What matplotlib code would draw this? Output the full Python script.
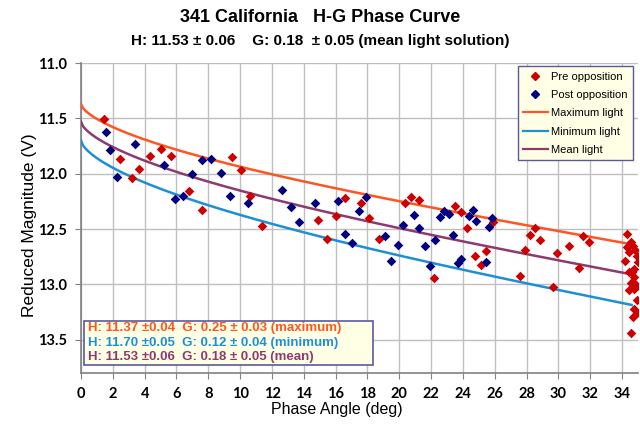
import numpy as np
import matplotlib
matplotlib.use("Agg")
import matplotlib.pyplot as plt
from matplotlib.lines import Line2D
from matplotlib.patches import Rectangle

# --- data ---
pre_alpha = [1.45, 2.45, 3.19, 3.67, 4.36, 5.03, 5.66, 6.81, 7.59, 9.48, 10.08, 10.63, 11.36,
             14.89, 15.45, 16.04, 16.6, 17.61, 18.07, 18.7, 20.33, 20.75, 21.21, 22.2, 23.52,
             23.88, 24.26, 24.74, 25.14, 25.47, 25.89, 27.61, 27.92, 28.24, 28.53, 28.82,
             29.66, 29.92, 30.67, 31.32, 31.55, 31.91,
             34.32, 34.53, 34.32, 34.69, 34.84, 34.42, 34.94, 34.21, 34.99, 34.78, 34.63,
             34.69, 34.53, 34.91, 34.42, 34.78, 34.91, 34.78, 34.69, 34.91, 34.57, 34.42, 34.74]
pre_mag = [11.51, 11.87, 12.04, 11.96, 11.84, 11.78, 11.84, 12.16, 12.33, 11.85, 11.97, 12.20, 12.47,
           12.42, 12.59, 12.38, 12.22, 12.26, 12.40, 12.59, 12.26, 12.21, 12.24, 12.94, 12.29,
           12.35, 12.49, 12.74, 12.82, 12.70, 12.44, 12.92, 12.69, 12.55, 12.49, 12.60,
           13.02, 12.72, 12.65, 12.85, 12.56, 12.62,
           12.54, 12.62, 12.66, 12.65, 12.69, 12.71, 12.74, 12.79, 12.80, 12.86, 12.89,
           12.98, 12.99, 13.01, 13.05, 13.04, 13.14, 13.22, 13.29, 13.26, 13.44, 12.89, 12.93]

post_alpha = [1.55, 1.82, 2.28, 3.38, 5.2, 5.89, 6.39, 6.98, 7.59, 8.18, 8.78, 9.35, 10.5,
              12.64, 13.19, 13.69, 14.72, 16.12, 16.6, 17.06, 17.44, 17.92, 19.12, 19.5, 19.9,
              20.23, 20.9, 21.26, 21.64, 21.91, 22.26, 22.56, 22.83, 23.1, 23.4, 23.67, 23.88,
              24.36, 24.61, 24.84, 25.45, 25.62, 25.83]
post_mag = [11.62, 11.79, 12.03, 11.73, 11.92, 12.23, 12.20, 12.00, 11.88, 11.87, 11.99, 12.20, 12.26,
            12.15, 12.30, 12.44, 12.26, 12.25, 12.54, 12.63, 12.34, 12.21, 12.56, 12.79, 12.64,
            12.46, 12.37, 12.49, 12.65, 12.83, 12.60, 12.39, 12.34, 12.36, 12.55, 12.81, 12.77,
            12.38, 12.33, 12.43, 12.80, 12.48, 12.40]

fit_names = ["Maximum light", "Minimum light", "Mean light"]
fit_H = [11.37, 11.70, 11.53]
fit_G = [0.25, 0.12, 0.18]
fit_colors = ["#FF5522", "#1E8FD5", "#8E3A6E"]
box_lines = ["H: 11.37 \u00b10.04  G: 0.25 \u00b1 0.03 (maximum)",
             "H: 11.70 \u00b10.05  G: 0.12 \u00b1 0.04 (minimum)",
             "H: 11.53 \u00b10.06  G: 0.18 \u00b1 0.05 (mean)"]

x_ticks = list(range(0, 35, 2))
y_ticks = [11.0, 11.5, 12.0, 12.5, 13.0, 13.5]


def hg_mag(H, G, alpha_deg):
    t = np.tan(np.radians(alpha_deg) / 2.0)
    phi1 = np.exp(-3.33 * t ** 0.63)
    phi2 = np.exp(-1.87 * t ** 1.22)
    return H - 2.5 * np.log10((1 - G) * phi1 + G * phi2)


fig = plt.figure(figsize=(6.4, 4.36), dpi=100)
ax = fig.add_axes([81 / 640, 1 - 373 / 436, (638 - 81) / 640, (373 - 63) / 436])

alpha = np.linspace(0, 34.6, 300)
for name, H, G, c in zip(fit_names, fit_H, fit_G, fit_colors):
    ax.plot(alpha, hg_mag(H, G, alpha), color=c, lw=1.8, zorder=3)

ax.scatter(pre_alpha, pre_mag, marker="D", s=24, color="#CC0000", zorder=4, linewidths=0)
ax.scatter(post_alpha, post_mag, marker="D", s=24, color="#000080", zorder=4, linewidths=0)

ax.set_xlim(0, 35)
ax.set_ylim(13.8, 11.0)
ax.set_xticks(x_ticks)
ax.set_yticks(y_ticks)
ax.set_yticklabels([f"{v:.1f}" for v in y_ticks])
ax.grid(True, color="#BFBFBF", lw=1.0)
ax.set_axisbelow(True)
for s in ["top", "right"]:
    ax.spines[s].set_visible(False)
for s in ["left", "bottom"]:
    ax.spines[s].set_color("#808080")
    ax.spines[s].set_linewidth(1.2)
ax.tick_params(axis="both", length=4, color="#808080", labelsize=10.5, pad=6)
for lab in ax.get_xticklabels() + ax.get_yticklabels():
    lab.set_fontfamily("Lato")
    lab.set_fontweight("bold")

fig.text(30 / 640, 1 - 225 / 436, "Reduced Magnitude (V)", rotation=90, ha="center", va="center",
         fontsize=12.5, family="Liberation Sans")
fig.text(337 / 640, 1 - 409 / 436, "Phase Angle (deg)", ha="center", va="center",
         fontsize=11.5, family="Liberation Sans")
fig.text(0.5, 1 - 17 / 436, "341 California   H-G Phase Curve", ha="center", va="center",
         fontsize=13, fontweight="bold", family="Liberation Sans")
fig.text(0.5, 1 - 41 / 436, "H: 11.53 \u00b1 0.06    G: 0.18  \u00b1 0.05 (mean light solution)",
         ha="center", va="center", fontsize=11, fontweight="bold", family="Liberation Sans")

handles = [Line2D([], [], marker="D", ls="none", color="#CC0000", markersize=4.5),
           Line2D([], [], marker="D", ls="none", color="#000080", markersize=4.5)]
handles += [Line2D([], [], color=c, lw=1.6) for c in fit_colors]
leg = ax.legend(handles, ["Pre opposition", "Post opposition"] + fit_names,
                loc="upper right", bbox_to_anchor=(633 / 640, 1 - 66 / 436),
                bbox_transform=fig.transFigure, prop={"family": "Liberation Sans", "size": 8},
                frameon=True, fancybox=False, handlelength=2.2, handletextpad=0.3,
                borderpad=0.5, labelspacing=0.75, borderaxespad=0)
leg.get_frame().set_facecolor("#FFFFE6")
leg.get_frame().set_edgecolor("#5A5A9A")
leg.get_frame().set_alpha(1)

# text box
bx0, bx1, by0, by1 = 84, 373, 321, 365
rect = Rectangle((bx0 / 640, 1 - by1 / 436), (bx1 - bx0) / 640, (by1 - by0) / 436,
                 transform=fig.transFigure, facecolor="#FFFFE6", edgecolor="#5A5A9A", lw=1.2, zorder=5)
fig.patches.append(rect)
for i, (txt, c) in enumerate(zip(box_lines, fit_colors)):
    fig.text(88 / 640, 1 - (328 + i * 14.5) / 436, txt, color=c, ha="left", va="center",
             fontsize=9.5, fontweight="bold", family="Liberation Sans", zorder=6)

fig.savefig("out.png", dpi=100)
